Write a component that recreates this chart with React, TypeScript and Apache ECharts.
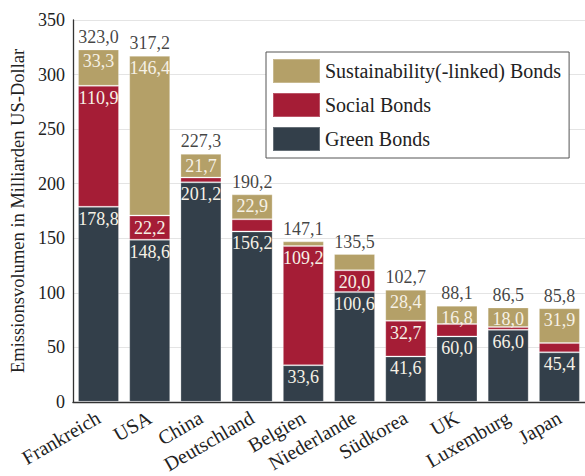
import React, { useEffect, useRef } from "react";
import * as echarts from "echarts";

const categories = ["Frankreich", "USA", "China", "Deutschland", "Belgien", "Niederlande", "Südkorea", "UK", "Luxemburg", "Japan"];
const greenBonds = [178.8, 148.6, 201.2, 156.2, 33.6, 100.6, 41.6, 60.0, 66.0, 45.4];
const socialBonds = [110.9, 22.2, 4.4, 11.1, 109.2, 20.0, 32.7, 11.3, 2.5, 8.5];
const sustainabilityBonds = [33.3, 146.4, 21.7, 22.9, 4.3, 14.9, 28.4, 16.8, 18.0, 31.9];
const totals = [323.0, 317.2, 227.3, 190.2, 147.1, 135.5, 102.7, 88.1, 86.5, 85.8];

const FONT = "Liberation Serif";
const fmt = (v: number) => v.toFixed(1).replace(".", ",");

export default function App() {
  const ref = useRef<HTMLDivElement>(null);
  useEffect(() => {
    document.body.style.margin = "0";
    const chart = echarts.init(ref.current!, null, { renderer: "svg" });
    const innerLabel = {
      show: true,
      position: "insideTop" as const,
      distance: 3,
      color: "#f6f1e6",
      fontFamily: FONT,
      fontSize: 18,
      formatter: (p: any) => (p.value >= 16 ? fmt(p.value) : ""),
    };
    const barCommon = {
      type: "bar" as const,
      stack: "total",
      barWidth: 41,
      itemStyle: { borderColor: "rgba(255,255,255,0.25)", borderWidth: 1 },
      label: innerLabel,
    };
    chart.setOption({
      animation: false,
      textStyle: { fontFamily: FONT },
      grid: { left: 72, right: -5, top: 20, bottom: 71 },
      legend: {
        orient: "vertical",
        left: 266,
        top: 52,
        icon: "rect",
        itemWidth: 47,
        itemHeight: 24,
        itemGap: 8,
        padding: [6, 8, 6, 6],
        borderColor: "#555",
        borderWidth: 1,
        backgroundColor: "#fff",
        textStyle: { fontFamily: FONT, fontSize: 20, color: "#222" },
        data: ["Sustainability(-linked) Bonds", "Social Bonds", "Green Bonds"],
      },
      xAxis: {
        type: "category",
        data: categories,
        axisLine: { lineStyle: { color: "#333", width: 1.3 } },
        axisTick: { show: false },
        axisLabel: { rotate: 30, fontFamily: FONT, fontSize: 20, color: "#222", margin: 14, interval: 0 },
      },
      yAxis: {
        type: "value",
        min: 0,
        max: 350,
        interval: 50,
        name: "Emissionsvolumen in Milliarden US-Dollar",
        nameLocation: "middle",
        nameGap: 45,
        nameTextStyle: { fontFamily: FONT, fontSize: 18.5, color: "#222" },
        axisLine: { show: true, lineStyle: { color: "#333", width: 1.3 } },
        axisTick: { show: false },
        axisLabel: { fontFamily: FONT, fontSize: 18, color: "#222", margin: 8 },
        splitLine: { lineStyle: { color: "#e4e4e4", width: 1 } },
      },
      series: [
        { ...barCommon, name: "Green Bonds", data: greenBonds, itemStyle: { ...barCommon.itemStyle, color: "#333f4a" } },
        { ...barCommon, name: "Social Bonds", data: socialBonds, itemStyle: { ...barCommon.itemStyle, color: "#a51d36" } },
        { ...barCommon, name: "Sustainability(-linked) Bonds", data: sustainabilityBonds, itemStyle: { ...barCommon.itemStyle, color: "#b4a068" } },
        {
          type: "scatter",
          name: "Gesamt",
          data: totals,
          symbolSize: 1,
          itemStyle: { color: "rgba(0,0,0,0)" },
          label: {
            show: true,
            position: "top",
            distance: 3,
            color: "#111",
            fontFamily: FONT,
            fontSize: 18,
            formatter: (p: any) => fmt(p.value),
          },
        },
      ],
    });
    return () => chart.dispose();
  }, []);
  return <div ref={ref} style={{ width: 585, height: 476 }} />;
}
